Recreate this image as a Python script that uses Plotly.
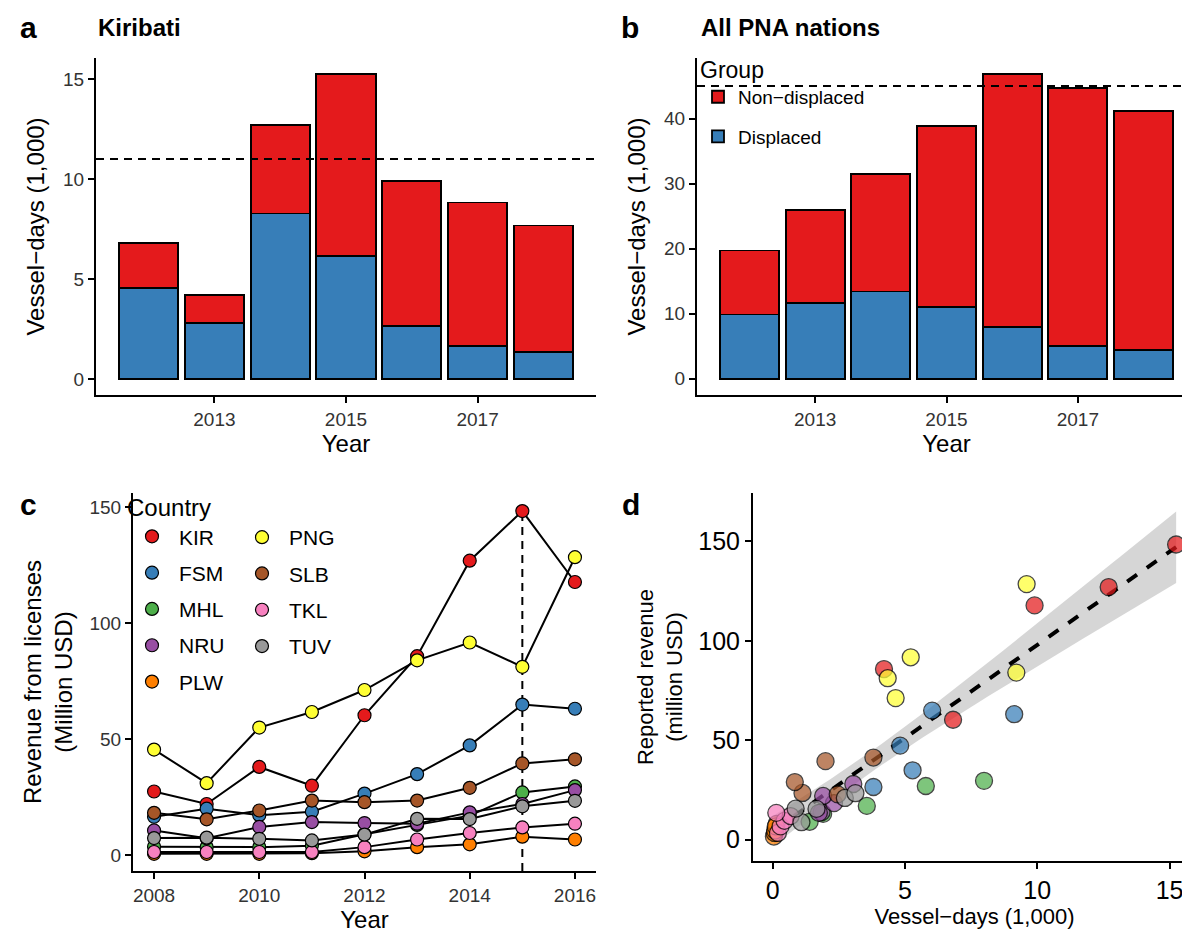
import numpy as np
import plotly.graph_objects as go

# Panels a/b: vessel-days (1,000) by year, split in displaced / non-displaced
BAR_YEARS = [2012, 2013, 2014, 2015, 2016, 2017, 2018]
KIR_DISPLACED = [4.56, 2.80, 8.28, 6.14, 2.67, 1.65, 1.37]
KIR_NONDISPLACED = [2.26, 1.41, 4.42, 9.11, 7.23, 7.18, 6.31]
PNA_DISPLACED = [9.88, 11.70, 13.40, 11.06, 7.98, 5.05, 4.37]
PNA_NONDISPLACED = [9.82, 14.20, 18.10, 27.84, 38.82, 39.70, 36.83]
KIR_REF = 11
PNA_REF = 45

# Panel c: revenue from licenses (million USD) 2008-2016
REV_YEARS = [2008, 2009, 2010, 2011, 2012, 2013, 2014, 2015, 2016]
COUNTRIES = ["KIR", "FSM", "MHL", "NRU", "PLW", "PNG", "SLB", "TKL", "TUV"]
REV = {
    "KIR": [27.4, 22.0, 38.0, 29.9, 60.3, 85.8, 127.0, 148.4, 117.8],
    "FSM": [16.5, 20.0, 17.2, 18.7, 26.5, 34.9, 47.3, 64.9, 63.1],
    "MHL": [3.6, 3.4, 3.4, 4.0, 9.0, 13.0, 17.0, 27.0, 29.6],
    "NRU": [10.6, 7.2, 12.1, 14.2, 13.8, 13.5, 18.4, 22.0, 28.0],
    "PLW": [0.5, 0.5, 0.5, 0.8, 1.6, 3.4, 4.6, 7.9, 6.7],
    "PNG": [45.5, 31.0, 55.0, 61.7, 71.2, 84.0, 91.7, 81.2, 128.5],
    "SLB": [18.2, 15.4, 19.2, 23.5, 22.8, 23.5, 29.0, 39.5, 41.3],
    "TKL": [1.3, 1.3, 1.3, 1.3, 3.4, 6.7, 9.5, 11.9, 13.5],
    "TUV": [7.3, 7.5, 7.0, 6.3, 8.8, 15.6, 15.5, 21.0, 23.4],
}
COLORS = {
    "KIR": "#E41A1C", "FSM": "#377EB8", "MHL": "#4DAF4A", "NRU": "#984EA3",
    "PLW": "#FF7F00", "PNG": "#FFFF33", "SLB": "#A65628", "TKL": "#F781BF",
    "TUV": "#999999",
}
LEGEND_COL1 = ["KIR", "FSM", "MHL", "NRU", "PLW"]

# Panel d: vessel-days (1,000) per country 2012-2016, paired with revenue
VD = {
    "KIR": [d + n for d, n in zip(KIR_DISPLACED, KIR_NONDISPLACED)][:5],
    "FSM": [3.81, 5.29, 4.82, 6.03, 9.13],
    "MHL": [1.40, 1.91, 3.56, 5.79, 7.99],
    "NRU": [1.85, 1.75, 2.32, 1.91, 3.05],
    "PLW": [0.05, 0.08, 0.10, 0.15, 0.12],
    "PNG": [4.65, 9.21, 5.22, 4.35, 9.60],
    "SLB": [2.46, 1.13, 0.84, 2.00, 3.81],
    "TKL": [0.20, 0.30, 0.45, 0.68, 0.14],
    "TUV": [1.09, 0.87, 1.66, 2.73, 3.13],
}
D_ORDER = ["FSM", "KIR", "MHL", "NRU", "PLW", "PNG", "SLB", "TKL", "TUV"]

RED, BLUE = "#E41A1C", "#377EB8"
W, H = 1190, 932
FONT = "Liberation Sans, Arial, sans-serif"


def px(x):
    return x / W


def py(y):
    return 1 - y / H


fig = go.Figure()

# --- a / b: stacked bars
for xa, ya, disp, nond, show in [("x", "y", KIR_DISPLACED, KIR_NONDISPLACED, False),
                                  ("x2", "y2", PNA_DISPLACED, PNA_NONDISPLACED, True)]:
    fig.add_trace(go.Bar(x=BAR_YEARS, y=disp, name="Displaced", width=0.9,
                         marker=dict(color=BLUE, line=dict(color="black", width=1.8)),
                         xaxis=xa, yaxis=ya, showlegend=show, legend="legend3",
                         legendgroup="disp", legendrank=2))
    fig.add_trace(go.Bar(x=BAR_YEARS, y=nond, name="Non−displaced", width=0.9,
                         marker=dict(color=RED, line=dict(color="black", width=1.8)),
                         xaxis=xa, yaxis=ya, showlegend=show, legend="legend3",
                         legendgroup="nond", legendrank=1))

# --- c: lines first, then points on top
for c in COUNTRIES:
    fig.add_trace(go.Scatter(x=REV_YEARS, y=REV[c], mode="lines",
                             line=dict(color="black", width=2),
                             xaxis="x3", yaxis="y3", showlegend=False, hoverinfo="skip"))
for c in COUNTRIES:
    fig.add_trace(go.Scatter(x=REV_YEARS, y=REV[c], mode="markers", name=c,
                             marker=dict(size=13, color=COLORS[c], line=dict(color="black", width=1.2)),
                             xaxis="x3", yaxis="y3",
                             legend="legend" if c in LEGEND_COL1 else "legend2",
                             legendgroup=c))

# --- d: linear fit with 95% band, then points
vx = np.concatenate([VD[c] for c in COUNTRIES])
vy = np.concatenate([REV[c][4:] for c in COUNTRIES])
slope, icpt = np.polyfit(vx, vy, 1)
xs = np.linspace(vx.min(), vx.max(), 80)
fit = icpt + slope * xs
n = len(vx)
s = np.sqrt(np.sum((vy - (icpt + slope * vx)) ** 2) / (n - 2))
se = s * np.sqrt(1 / n + (xs - vx.mean()) ** 2 / np.sum((vx - vx.mean()) ** 2))
tcrit = 2.0167
fig.add_trace(go.Scatter(x=xs, y=fit - tcrit * se, mode="lines", line=dict(width=0),
                         xaxis="x4", yaxis="y4", showlegend=False, hoverinfo="skip"))
fig.add_trace(go.Scatter(x=xs, y=fit + tcrit * se, mode="lines", line=dict(width=0),
                         fill="tonexty", fillcolor="rgba(153,153,153,0.4)",
                         xaxis="x4", yaxis="y4", showlegend=False, hoverinfo="skip"))
fig.add_trace(go.Scatter(x=xs, y=fit, mode="lines", line=dict(color="black", width=4, dash="dash"),
                         xaxis="x4", yaxis="y4", showlegend=False))
for c in D_ORDER:
    fig.add_trace(go.Scatter(x=VD[c], y=REV[c][4:], mode="markers", name=c,
                             marker=dict(size=17, color=COLORS[c], opacity=0.72,
                                         line=dict(color="black", width=1.3)),
                             xaxis="x4", yaxis="y4", showlegend=False))

# reference lines
fig.add_shape(type="line", xref="x domain", yref="y", x0=0, x1=1, y0=KIR_REF, y1=KIR_REF,
              line=dict(color="black", width=2, dash="8px,6px"))
fig.add_shape(type="line", xref="x2 domain", yref="y2", x0=0, x1=1, y0=PNA_REF, y1=PNA_REF,
              line=dict(color="black", width=2, dash="8px,6px"))
fig.add_shape(type="line", xref="x3", yref="y3", x0=2015, x1=2015, y0=-6.9,
              y1=REV["KIR"][REV_YEARS.index(2015)], layer="below",
              line=dict(color="black", width=2, dash="8px,6px"))

axis = dict(showline=True, linecolor="black", linewidth=2, ticks="outside", ticklen=6,
            tickwidth=1.5, tickcolor="black", showgrid=False, zeroline=False,
            tickfont=dict(size=19, color="#333333"), title_font=dict(size=24, color="black"))

fig.update_layout(
    width=W, height=H, margin=dict(l=0, r=0, t=0, b=0),
    paper_bgcolor="white", plot_bgcolor="white", barmode="stack", bargap=0.1,
    font=dict(family=FONT, color="black"),
    xaxis=dict(axis, domain=[px(88), px(588)], anchor="y", range=[2011.2, 2018.8],
               tickvals=BAR_YEARS[1::2], title=dict(text="Year", standoff=4)),
    yaxis=dict(axis, domain=[py(387), py(50)], anchor="x", range=[-0.8, 16.05],
               tickvals=[0, 5, 10, 15], title=dict(text="Vessel−days (1,000)", standoff=12)),
    xaxis2=dict(axis, domain=[px(689), px(1188)], anchor="y2", range=[2011.2, 2018.8],
                tickvals=BAR_YEARS[1::2], title=dict(text="Year", standoff=4)),
    yaxis2=dict(axis, domain=[py(387), py(50)], anchor="x2", range=[-2.5, 49.3],
                tickvals=[0, 10, 20, 30, 40], title=dict(text="Vessel−days (1,000)", standoff=12)),
    xaxis3=dict(axis, domain=[px(125), px(588)], anchor="y3", range=[2007.6, 2016.4],
                tickvals=REV_YEARS[::2], title=dict(text="Year", standoff=2)),
    yaxis3=dict(axis, domain=[py(863), py(485)], anchor="x3", range=[-6.9, 156.2],
                tickvals=[0, 50, 100, 150],
                title=dict(text="Revenue from licenses<br>(Million USD)", standoff=10)),
    xaxis4=dict(axis, domain=[px(745), px(1188)], anchor="y4", range=[-0.74, 16.0],
                tickvals=[0, 5, 10, 15], tickfont=dict(size=25, color="black"),
                title=dict(text="Vessel−days (1,000)", standoff=6, font=dict(size=22))),
    yaxis4=dict(axis, domain=[py(853), py(485)], anchor="x4", range=[-10.7, 174.3],
                tickvals=[0, 50, 100, 150], tickfont=dict(size=25, color="black"),
                title=dict(text="Reported revenue<br>(million USD)", standoff=10, font=dict(size=22))),
    legend=dict(x=px(117), y=py(477), xanchor="left", yanchor="top", bgcolor="rgba(0,0,0,0)",
                title=dict(text="Country", font=dict(size=24)), font=dict(size=21),
                itemwidth=44, tracegroupgap=6, traceorder="grouped"),
    legend2=dict(x=px(227), y=py(509), xanchor="left", yanchor="top", bgcolor="rgba(0,0,0,0)",
                 font=dict(size=21), itemwidth=44, tracegroupgap=6, traceorder="grouped"),
    legend3=dict(x=px(690), y=py(40), xanchor="left", yanchor="top", bgcolor="rgba(0,0,0,0)",
                 title=dict(text="Group", font=dict(size=23)), font=dict(size=19),
                 tracegroupgap=12, traceorder="grouped"),
)

labels = [("a", 10, 20, 30), ("Kiribati", 88, 20, 24), ("b", 611, 20, 30),
          ("All PNA nations", 691, 20, 24), ("c", 10, 497, 30), ("d", 612, 497, 30)]
for text, x, y, size in labels:
    fig.add_annotation(text=f"<b>{text}</b>", xref="paper", yref="paper", x=px(x), y=py(y),
                       xanchor="left", yanchor="middle", showarrow=False,
                       font=dict(size=size, color="black"))

fig.write_html("out.html")
